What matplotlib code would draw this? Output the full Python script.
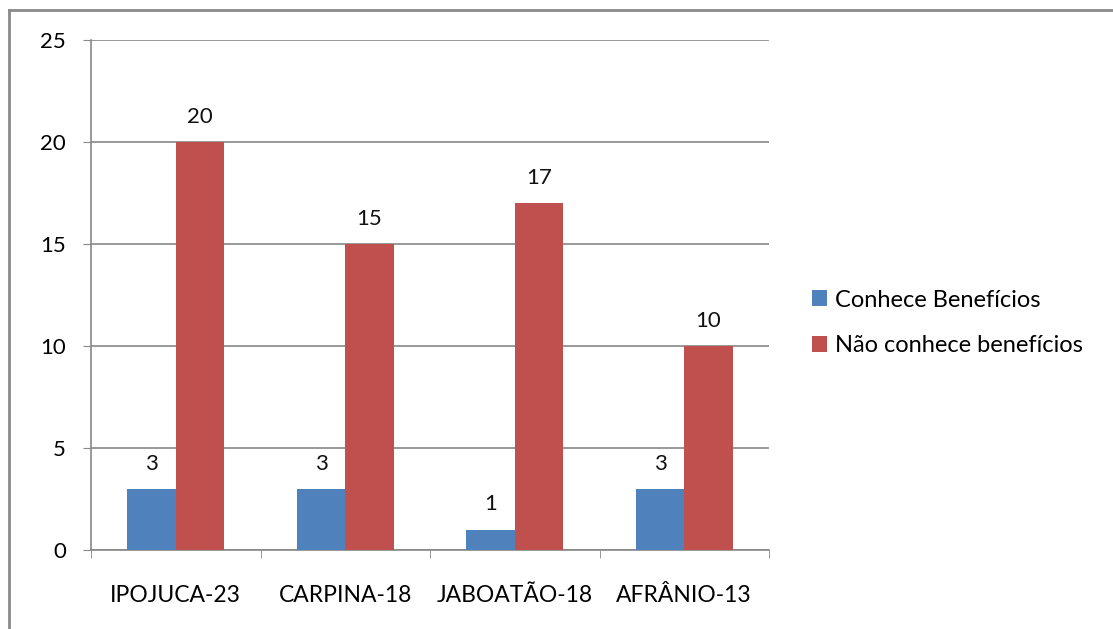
import matplotlib.pyplot as plt
import numpy as np
from matplotlib.lines import Line2D

cidades = ["IPOJUCA-23", "CARPINA-18", "JABOATÃO-18", "AFRÂNIO-13"]
conhece = [3, 3, 1, 3]
nao_conhece = [20, 15, 17, 10]
series = ["Conhece Benefícios", "Não conhece benefícios"]

azul = "#4F81BD"
vermelho = "#C0504D"
cinza = "#888888"

plt.rcParams["font.family"] = ["Lato", "DejaVu Sans"]

fig = plt.figure(figsize=(11.13, 6.29), dpi=100)
ax = fig.add_axes([91 / 1113, 1 - 550 / 629, 678 / 1113, 510 / 629])

x = np.arange(len(cidades))
w = 0.286
b1 = ax.bar(x - w / 2, conhece, w, color=azul, label=series[0], zorder=3)
b2 = ax.bar(x + w / 2, nao_conhece, w, color=vermelho, label=series[1], zorder=3)

for barras in (b1, b2):
    for b in barras:
        ax.annotate(str(int(b.get_height())),
                    (b.get_x() + b.get_width() / 2, b.get_height()),
                    xytext=(0, 11), textcoords="offset points",
                    ha="center", va="bottom", fontsize=16, color="#111111")

ax.set_xlim(-0.5, len(cidades) - 0.5)
ax.set_ylim(0, 25)
ax.set_yticks(range(0, 26, 5))
ax.set_xticks(x)
ax.set_xticklabels(cidades)
ax.set_xticks(np.arange(-0.5, len(cidades), 1), minor=True)

ax.tick_params(axis="y", length=6, color=cinza, pad=12, labelsize=16)
ax.tick_params(axis="x", which="major", length=0, pad=25, labelsize=16.5)
ax.tick_params(axis="x", which="minor", length=6, color=cinza)

ax.grid(axis="y", color=cinza, linewidth=1.2, zorder=0)
for s in ("top", "right"):
    ax.spines[s].set_visible(False)
for s in ("left", "bottom"):
    ax.spines[s].set_color(cinza)
    ax.spines[s].set_linewidth(1.2)

ax.legend(loc="center left", bbox_to_anchor=(1.063, 0.445), frameon=False,
          fontsize=17, handlelength=0.65, handleheight=0.65, handletextpad=0.35,
          labelspacing=1.05, borderpad=0, borderaxespad=0)

# moldura externa
fig.add_artist(Line2D([9 / 1113, 9 / 1113], [0, 1 - 10 / 629], color="#8a8a8a", linewidth=2))
fig.add_artist(Line2D([9 / 1113, 1], [1 - 10 / 629, 1 - 10 / 629], color="#8a8a8a", linewidth=2))

fig.savefig("out.png", dpi=100)
